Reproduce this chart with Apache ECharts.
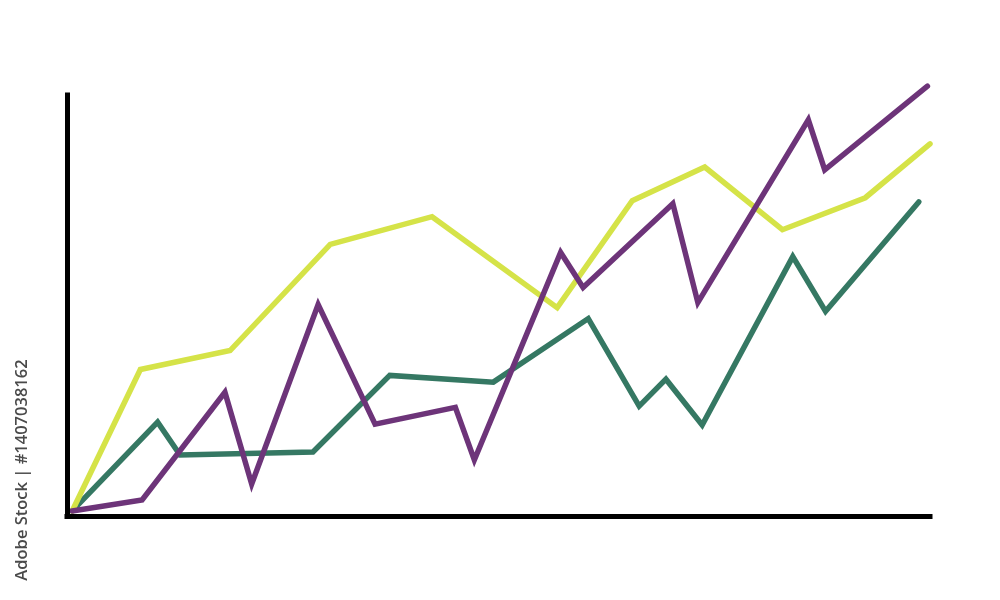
<!DOCTYPE html>
<html><head><meta charset="utf-8">
<script src="https://cdn.jsdelivr.net/npm/echarts@6/dist/echarts.min.js"></script>
<style>html,body{margin:0;padding:0;background:#fff}#c{width:1000px;height:600px}</style>
</head><body><div id="c"></div>
<script>
const yellowSeries = [[0.6,1.2],[8.5,34.8],[18.9,39.3],[30.5,64.5],[42.3,71.1],[56.8,49.5],[65.5,74.9],[73.9,82.9],[82.9,68.0],[92.5,75.6],[100,88.4]];
const purpleSeries = [[0.6,1.2],[8.7,3.8],[18.3,29.4],[21.4,7.6],[29.1,50.2],[35.7,21.8],[45.0,25.8],[47.2,13.3],[57.2,62.6],[59.8,54.3],[70.2,74.2],[73.1,50.7],[85.9,94.1],[87.8,82.2],[99.7,102.1]];
const greenSeries = [[0.6,1.2],[10.5,22.3],[13.1,14.5],[28.5,15.2],[37.4,33.4],[49.4,31.8],[60.4,46.9],[66.3,26.1],[69.4,32.5],[73.6,21.6],[84.1,61.6],[87.9,48.6],[98.7,74.6]];
const watermarkText = 'Adobe Stock | #1407038162';

const chart = echarts.init(document.getElementById('c'), null, {renderer:'canvas'});
function mk(data, color, z){
  return {type:'line', data, symbol:'none', clip:false, z,
    lineStyle:{color, width:5.5, cap:'round', join:'miter'}, animation:false};
}
chart.setOption({
  animation:false,
  backgroundColor:'#fff',
  grid:{left:67, right:70, top:95, bottom:84},
  xAxis:{type:'value', min:0, max:100, axisLine:{show:true, onZero:false, lineStyle:{color:'#000', width:5, cap:'square'}},
    axisTick:{show:false}, axisLabel:{show:false}, splitLine:{show:false}, z:10},
  yAxis:{type:'value', min:0, max:100, axisLine:{show:true, onZero:false, lineStyle:{color:'#000', width:5, cap:'square'}},
    axisTick:{show:false}, axisLabel:{show:false}, splitLine:{show:false}, z:10},
  series:[
    mk(greenSeries, '#357863', 2),
    mk(yellowSeries, '#d5e348', 3),
    mk(purpleSeries, '#6d3479', 4)
  ],
  graphic:[{type:'text', x:22, y:470, rotation:Math.PI/2,
    style:{text:watermarkText, fill:'#4a4a4a', font:'600 16.5px "Open Sans", sans-serif', align:'center', verticalAlign:'middle'}}]
});
</script></body></html>
